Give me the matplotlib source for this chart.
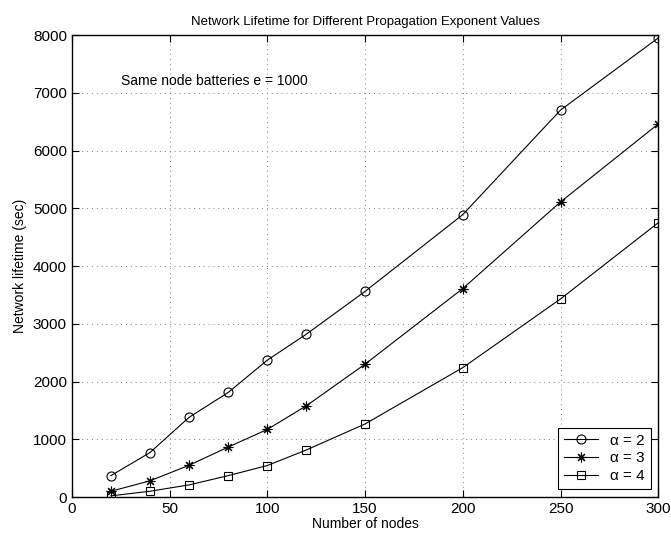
import matplotlib
matplotlib.use("Agg")
import matplotlib.pyplot as plt

plt.rcParams['font.family'] = ['Liberation Sans', 'DejaVu Sans']

nodes = [20, 40, 60, 80, 100, 120, 150, 200, 250, 300]
life_a2 = [370, 770, 1380, 1810, 2370, 2820, 3560, 4890, 6700, 7950]
life_a3 = [100, 280, 550, 865, 1170, 1580, 2300, 3610, 5110, 6460]
life_a4 = [20, 100, 210, 370, 545, 815, 1265, 2240, 3430, 4750]
labels = ['\u03b1 = 2', '\u03b1 = 3', '\u03b1 = 4']

fig = plt.figure(figsize=(6.71, 5.35), dpi=100)
ax = fig.add_axes([0.107, 0.071, 0.874, 0.8635])

ax.plot(nodes, life_a2, 'k-', marker='o', mfc='none', ms=6.5, mew=0.8, lw=0.8, label=labels[0])
ax.plot(nodes, life_a3, 'k-', marker=(8, 2, 0), ms=7, mew=0.8, lw=0.8, label=labels[1])
ax.plot(nodes, life_a4, 'k-', marker='s', mfc='none', ms=5.5, mew=0.8, lw=0.8, label=labels[2])

ax.set_xlim(0, 300)
ax.set_ylim(0, 8000)
ax.set_xticks(range(0, 301, 50))
ax.set_yticks(range(0, 8001, 1000))
ax.tick_params(direction='in', top=True, right=True, labelsize=11, length=5, width=0.8)
ax.grid(True, linestyle=(0, (1, 4)), color='0.5', lw=0.7)
for s in ax.spines.values():
    s.set_linewidth(1.0)

ax.set_title('Network Lifetime for Different Propagation Exponent Values', fontsize=9.5, pad=7)
ax.set_xlabel('Number of nodes', fontsize=10, labelpad=1)
ax.set_ylabel('Network lifetime (sec)', fontsize=10, labelpad=4)
ax.text(25, 7200, 'Same node batteries e = 1000', fontsize=10, va='center')

leg = ax.legend(loc='lower right', fontsize=11, fancybox=False, edgecolor='k',
                framealpha=1, handlelength=2.2, borderpad=0.4, labelspacing=0.25,
                borderaxespad=0.5)
leg.get_frame().set_linewidth(0.8)

fig.savefig('out.png', dpi=100)
